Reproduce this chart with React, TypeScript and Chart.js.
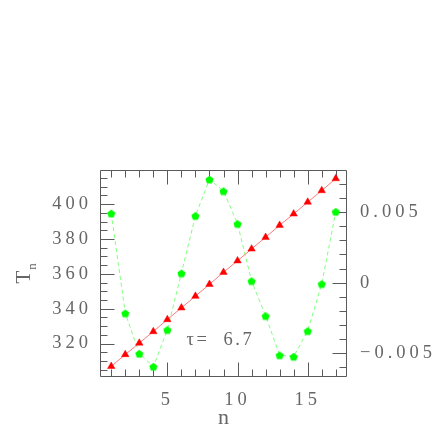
import React, { useEffect, useRef } from "react";
import { Chart, registerables } from "chart.js";

Chart.register(...registerables);

// ---- data ----
const nValues = [1, 2, 3, 4, 5, 6, 7, 8, 9, 10, 11, 12, 13, 14, 15, 16, 17];
const tSeries = [306.9, 313.7, 320.3, 326.9, 333.8, 340.5, 347.2, 354.0, 360.9, 367.5, 374.3, 381.0, 387.9, 394.4, 401.2, 407.8, 414.7];
const devSeries = [0.00492, -0.00217, -0.00504, -0.00596, -0.00335, 0.00067, 0.00475, 0.00733, 0.0065, 0.00418, 0.00012, -0.00236, -0.00515, -0.00525, -0.00343, -0.00009, 0.00504];

const xLabelTicks = [5, 10, 15];
const xMinorTicks = [1, 2, 3, 4, 6, 7, 8, 9, 11, 12, 13, 14, 16, 17];
const yLeftLabelTicks = [320, 340, 360, 380, 400];
const yLeftMinorTicks = [305, 310, 315, 325, 330, 335, 345, 350, 355, 365, 370, 375, 385, 390, 395, 405, 410, 415];
const yRightLabelTicks = [-0.005, 0, 0.005];
const yRightMinorTicks = [-0.006, -0.004, -0.003, -0.002, -0.001, 0.001, 0.002, 0.003, 0.004, 0.006, 0.007];
const yRightLabelText = ["\u22120.005", "0", "0.005"];

const annotationText = "\u03C4=  6.7";
const annotationN = 6.36;
const annotationT = 323.3;
const xTitle = "n";
const yTitleMain = "T";
const yTitleSub = "n";

const FONT = "'Liberation Serif', serif";
const TEXT_COLOR = "#666666";
const FRAME_COLOR = "#5a5a5a";

function makePentagon(r: number, color: string): HTMLCanvasElement {
  const size = Math.ceil(r * 2) + 2;
  const c = document.createElement("canvas");
  c.width = size;
  c.height = size;
  const g = c.getContext("2d")!;
  g.fillStyle = color;
  g.beginPath();
  for (let i = 0; i < 5; i++) {
    const a = -Math.PI / 2 + (i * 2 * Math.PI) / 5;
    const px = size / 2 + r * Math.cos(a);
    const py = size / 2 + 0.5 + r * Math.sin(a);
    if (i === 0) g.moveTo(px, py);
    else g.lineTo(px, py);
  }
  g.closePath();
  g.fill();
  return c;
}

const framePlugin = {
  id: "frameTicks",
  beforeDraw(chart: any) {
    chart.ctx.letterSpacing = "4px";
  },
  beforeDatasetsDraw(chart: any) {
    const { ctx, chartArea: a, scales } = chart;
    ctx.save();
    ctx.strokeStyle = FRAME_COLOR;
    ctx.lineWidth = 1;
    const L = a.left + 0.5, R = a.right - 0.5, T = a.top + 0.5, B = a.bottom - 0.5;
    ctx.beginPath();
    ctx.rect(L, T, R - L, B - T);
    const minor = 7, major = 14;
    const xt = (v: number, len: number) => {
      const px = Math.round(scales.x.getPixelForValue(v)) + 0.5;
      ctx.moveTo(px, B); ctx.lineTo(px, B - len);
      ctx.moveTo(px, T); ctx.lineTo(px, T + len);
    };
    xMinorTicks.forEach((v) => xt(v, minor));
    xLabelTicks.forEach((v) => xt(v, major));
    const yl = (v: number, len: number) => {
      const py = Math.round(scales.y.getPixelForValue(v)) + 0.5;
      ctx.moveTo(L, py); ctx.lineTo(L + len, py);
    };
    yLeftMinorTicks.forEach((v) => yl(v, minor));
    yLeftLabelTicks.forEach((v) => yl(v, major));
    const yr = (v: number, len: number) => {
      const py = Math.round(scales.y2.getPixelForValue(v)) + 0.5;
      ctx.moveTo(R, py); ctx.lineTo(R - len, py);
    };
    yRightMinorTicks.forEach((v) => yr(v, minor));
    yRightLabelTicks.forEach((v) => yr(v, major));
    ctx.stroke();
    ctx.restore();
  },
  afterDraw(chart: any) {
    const { ctx, scales, chartArea: a } = chart;
    ctx.save();
    ctx.fillStyle = TEXT_COLOR;
    // annotation
    ctx.letterSpacing = "2.5px";
    ctx.font = `18.5px ${FONT}`;
    ctx.textAlign = "left";
    ctx.textBaseline = "alphabetic";
    ctx.fillText(annotationText, scales.x.getPixelForValue(annotationN), scales.y.getPixelForValue(annotationT) + 7);
    // x title
    ctx.letterSpacing = "0px";
    ctx.font = `22px ${FONT}`;
    ctx.textAlign = "center";
    ctx.fillText(xTitle, (a.left + a.right) / 2, 424);
    // y title (rotated)
    ctx.translate(30, (a.top + a.bottom) / 2 + 10);
    ctx.rotate(-Math.PI / 2);
    ctx.textAlign = "left";
    ctx.font = `21px ${FONT}`;
    ctx.fillText(yTitleMain, 0, 0);
    const w = ctx.measureText(yTitleMain).width;
    ctx.font = `13px ${FONT}`;
    ctx.fillText(yTitleSub, w + 1, 6);
    ctx.restore();
  },
};

export default function App() {
  const ref = useRef<HTMLCanvasElement | null>(null);
  useEffect(() => {
    document.body.style.margin = "0";
    const canvas = ref.current!;
    const pent = makePentagon(4.3, "#00ff00");
    const chart = new Chart(canvas, {
      type: "line",
      data: {
        datasets: [
          {
            label: "T",
            data: nValues.map((n, i) => ({ x: n, y: tSeries[i] })),
            yAxisID: "y",
            borderColor: "#ff7a7a",
            borderWidth: 1,
            pointStyle: "triangle",
            pointRadius: 4.3,
            pointBackgroundColor: "#ff0000",
            pointBorderColor: "#ff0000",
            pointBorderWidth: 0.5,
            tension: 0,
          },
          {
            label: "dev",
            data: nValues.map((n, i) => ({ x: n, y: devSeries[i] })),
            yAxisID: "y2",
            borderColor: "#80ff80",
            borderWidth: 1,
            borderDash: [4, 3],
            pointStyle: pent as any,
            pointRadius: 4,
            tension: 0,
          },
        ],
      },
      options: {
        responsive: false,
        animation: false,
        events: [],
        layout: { padding: { top: 170, left: 0, right: 0, bottom: 0 } },
        plugins: { legend: { display: false }, tooltip: { enabled: false } },
        scales: {
          x: {
            type: "linear",
            min: 0.2,
            max: 17.8,
            grid: { display: false, drawTicks: false },
            border: { display: false },
            afterFit: (s: any) => { s.height = 59; },
            afterBuildTicks: (s: any) => { s.ticks = xLabelTicks.map((v) => ({ value: v })); },
            ticks: { font: { family: FONT, size: 18.5 }, color: TEXT_COLOR, padding: 12, maxRotation: 0, autoSkip: false },
          },
          y: {
            type: "linear",
            position: "left",
            min: 300.8,
            max: 419.6,
            grid: { display: false, drawTicks: false },
            border: { display: false },
            afterFit: (s: any) => { s.width = 100; },
            afterBuildTicks: (s: any) => { s.ticks = yLeftLabelTicks.map((v) => ({ value: v })); },
            ticks: { font: { family: FONT, size: 18.5 }, color: TEXT_COLOR, padding: 8, autoSkip: false, callback: (v: any) => String(v) },
          },
          y2: {
            type: "linear",
            position: "right",
            min: -0.0067,
            max: 0.008,
            grid: { display: false, drawTicks: false },
            border: { display: false },
            afterFit: (s: any) => { s.width = 89; },
            afterBuildTicks: (s: any) => { s.ticks = yRightLabelTicks.map((v) => ({ value: v })); },
            ticks: {
              font: { family: FONT, size: 18.5 },
              color: TEXT_COLOR,
              padding: 13,
              autoSkip: false,
              callback: (v: any) => yRightLabelText[yRightLabelTicks.indexOf(v)] ?? String(v),
            },
          },
        },
      },
      plugins: [framePlugin],
    });
    return () => chart.destroy();
  }, []);
  return (
    <div style={{ position: "absolute", left: 0, top: 0, width: 436, height: 436, background: "#fff" }}>
      <canvas ref={ref} width={436} height={436} style={{ width: 436, height: 436, display: "block" }} />
    </div>
  );
}
